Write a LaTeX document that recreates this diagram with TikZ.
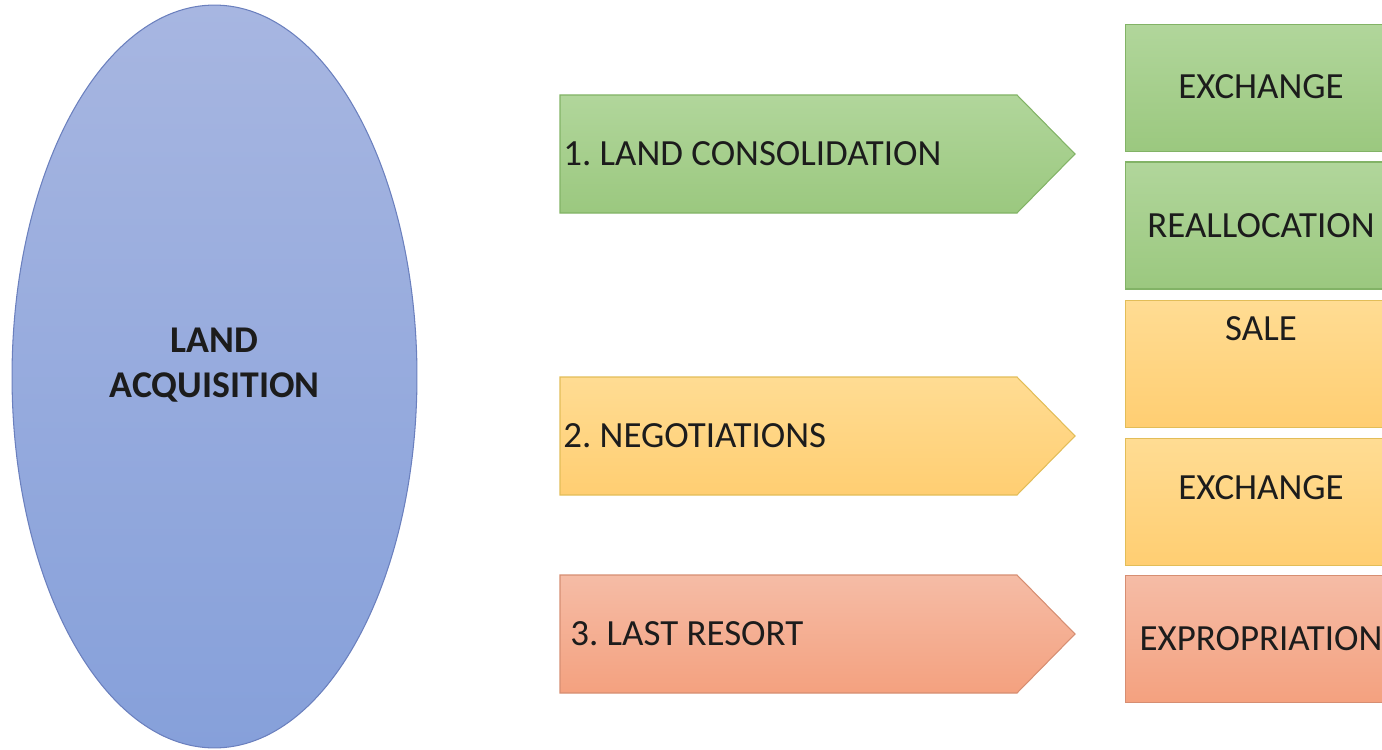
\documentclass[tikz,border=0pt]{standalone}
\usepackage{fontspec}
\setmainfont{Carlito}
\usepackage{tikz}
\usetikzlibrary{shapes.geometric}
\usetikzlibrary{positioning}
\frenchspacing

\definecolor{bluetop}{HTML}{A7B6E1}
\definecolor{bluebot}{HTML}{86A0DA}
\definecolor{blueedge}{HTML}{6B80BE}
\definecolor{grntop}{HTML}{B1D69B}
\definecolor{grnbot}{HTML}{9BC87F}
\definecolor{grnedge}{HTML}{82B366}
\definecolor{yeltop}{HTML}{FFDC93}
\definecolor{yelbot}{HTML}{FFCE72}
\definecolor{yeledge}{HTML}{E2BD58}
\definecolor{redtop}{HTML}{F5BCA6}
\definecolor{redbot}{HTML}{F4A17F}
\definecolor{rededge}{HTML}{D68E72}
\definecolor{ink}{HTML}{1C1C1C}

\tikzset{
	txt/.style={font=\fontsize{21}{25.5}\selectfont, text=ink},
	pointer/.style={draw=#1edge, top color=#1top, bottom color=#1bot, line width=0.6pt},
	stage/.style={txt, anchor=west, inner sep=0pt},
	option/.style={txt, draw=#1edge, top color=#1top, bottom color=#1bot, line width=0.6pt, minimum width=5.44cm, minimum height=2.54cm, inner sep=0pt}
}

\begin{document}
\begin{tikzpicture}[x=0.02cm,y=-0.02cm]
		\clip (0,0) rectangle (1382,750);
		% main ellipse
		\node[ellipse, draw=blueedge, top color=bluetop, bottom color=bluebot, line width=0.6pt, minimum width=8.1cm, minimum height=14.86cm, inner sep=0pt] (land) at (214.5,376.5) {};
		\node[txt, font=\fontsize{21.5}{25.5}\selectfont\bfseries, align=center] (acq) at (214.5,365) {LAND\\ACQUISITION};
		% the three ways
		\draw[pointer=grn] (560,95) -- (1017,95) -- (1075,154) -- (1017,213) -- (560,213) -- cycle;
		\node[stage] (consol) at (563,154) {1. LAND CONSOLIDATION};
		\draw[pointer=yel] (560,377) -- (1017,377) -- (1075,436) -- (1017,495) -- (560,495) -- cycle;
		\node[stage] (negot) at (563,436) {2. NEGOTIATIONS};
		\draw[pointer=red] (560,575) -- (1017,575) -- (1075,634) -- (1017,693) -- (560,693) -- cycle;
		\node[stage] (resort) at (570,634) {3. LAST RESORT};
		% outcomes
		\node[option=grn, text depth=2pt] (exch) at (1261,88) {EXCHANGE};
		\node[option=grn] (realloc) at (1261,225.5) {REALLOCATION};
		\node[option=yel, text depth=40pt] (sale) at (1261,364) {SALE};
		\node[option=yel, text depth=16pt] (swap) at (1261,502) {EXCHANGE};
		\node[option=red] (expro) at (1261,639) {EXPROPRIATION};
\end{tikzpicture}
\end{document}
